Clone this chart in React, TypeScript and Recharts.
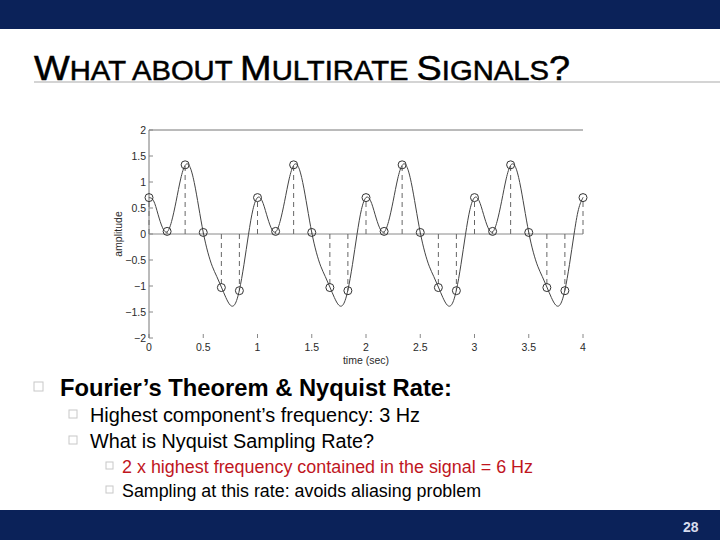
import React from 'react';
import {
  ComposedChart, Line, Scatter, XAxis, YAxis, ReferenceLine, Label,
} from 'recharts';

// ---- data ----
const curveTime = [
  0, 0.042, 0.083, 0.125, 0.167, 0.208, 0.25, 0.292, 0.333, 0.375, 0.417, 0.458,
  0.5, 0.542, 0.583, 0.625, 0.667, 0.708, 0.75, 0.792, 0.833, 0.875, 0.917, 0.958,
  1, 1.042, 1.083, 1.125, 1.167, 1.208, 1.25, 1.292, 1.333, 1.375, 1.417, 1.458,
  1.5, 1.542, 1.583, 1.625, 1.667, 1.708, 1.75, 1.792, 1.833, 1.875, 1.917, 1.958,
  2, 2.042, 2.083, 2.125, 2.167, 2.208, 2.25, 2.292, 2.333, 2.375, 2.417, 2.458,
  2.5, 2.542, 2.583, 2.625, 2.667, 2.708, 2.75, 2.792, 2.833, 2.875, 2.917, 2.958,
  3, 3.042, 3.083, 3.125, 3.167, 3.208, 3.25, 3.292, 3.333, 3.375, 3.417, 3.458,
  3.5, 3.542, 3.583, 3.625, 3.667, 3.708, 3.75, 3.792, 3.833, 3.875, 3.917, 3.958,
  4,
];
const curveAmp = [
  0.70, 0.64, 0.38, 0.12, 0.04, 0.24, 0.63, 1.06, 1.32, 1.30, 0.99, 0.52,
  0.03, -0.35, -0.62, -0.82, -1.02, -1.22, -1.37, -1.35, -1.08, -0.59, -0.01, 0.47,
  0.70, 0.64, 0.38, 0.12, 0.04, 0.24, 0.63, 1.06, 1.32, 1.30, 0.99, 0.52,
  0.03, -0.35, -0.62, -0.82, -1.02, -1.22, -1.37, -1.35, -1.08, -0.59, -0.01, 0.47,
  0.70, 0.64, 0.38, 0.12, 0.04, 0.24, 0.63, 1.06, 1.32, 1.30, 0.99, 0.52,
  0.03, -0.35, -0.62, -0.82, -1.02, -1.22, -1.37, -1.35, -1.08, -0.59, -0.01, 0.47,
  0.70, 0.64, 0.38, 0.12, 0.04, 0.24, 0.63, 1.06, 1.32, 1.30, 0.99, 0.52,
  0.03, -0.35, -0.62, -0.82, -1.02, -1.22, -1.37, -1.35, -1.08, -0.59, -0.01, 0.47,
  0.70,
];
const sampleTime = [
  0, 0.167, 0.333, 0.5, 0.667, 0.833, 1, 1.167, 1.333, 1.5, 1.667, 1.833,
  2, 2.167, 2.333, 2.5, 2.667, 2.833, 3, 3.167, 3.333, 3.5, 3.667, 3.833, 4,
];
const sampleAmp = [
  0.70, 0.05, 1.33, 0.03, -1.03, -1.09, 0.70, 0.05, 1.33, 0.03, -1.03, -1.09,
  0.70, 0.05, 1.33, 0.03, -1.03, -1.09, 0.70, 0.05, 1.33, 0.03, -1.03, -1.09,
  0.70,
];
const xTicks = [0, 0.5, 1, 1.5, 2, 2.5, 3, 3.5, 4];
const yTicks = [-2, -1.5, -1, -0.5, 0, 0.5, 1, 1.5, 2];

const curveData = curveTime.map((t, i) => ({ t, v: curveAmp[i] }));
const sampleData = sampleTime.map((t, i) => ({ t, v: sampleAmp[i] }));

const NAVY = '#0b2259';
const FONT = '"Liberation Sans", Arial, Helvetica, sans-serif';
const fmt = (v: number) => String(v).replace('-', '\u2212');

const Box = ({ x, y, s }: { x: number; y: number; s: number }) => (
  <rect x={x} y={y} width={s} height={s} fill="none" stroke="#c8c8c8" strokeWidth={1} />
);

export default function App() {
  const tickStyle = { fontSize: 10.5, fill: '#2a2a2a', fontFamily: FONT };
  return (
    <div style={{ position: 'absolute', left: 0, top: 0, width: 720, height: 540, background: '#fff', overflow: 'hidden' }}>
      <svg width={720} height={540} style={{ position: 'absolute', left: 0, top: 0 }}>
        <rect x={0} y={0} width={720} height={29} fill={NAVY} />
        <rect x={0} y={510} width={720} height={30} fill={NAVY} />
        <text x={34} y={80} fontFamily={FONT} fill="#000" stroke="#000" strokeWidth={0.5} textLength={536} lengthAdjust="spacingAndGlyphs">
          <tspan fontSize={35}>W</tspan>
          <tspan fontSize={27}>HAT ABOUT </tspan>
          <tspan fontSize={35}>M</tspan>
          <tspan fontSize={27}>ULTIRATE </tspan>
          <tspan fontSize={35}>S</tspan>
          <tspan fontSize={27}>IGNALS</tspan>
          <tspan fontSize={35}>?</tspan>
        </text>
        <line x1={34} y1={82} x2={720} y2={82} stroke="#d4d4d4" strokeWidth={2} />

        <Box x={34} y={382} s={9} />
        <text x={60} y={396} fontFamily={FONT} fontWeight="bold" fontSize={24} fill="#000" textLength={392} lengthAdjust="spacingAndGlyphs">Fourier’s Theorem &amp; Nyquist Rate:</text>

        <Box x={69} y={410} s={8} />
        <text x={90} y={422} fontFamily={FONT} fontSize={20} fill="#000" textLength={330} lengthAdjust="spacingAndGlyphs">Highest component’s frequency: 3 Hz</text>
        <Box x={69} y={436} s={8} />
        <text x={90} y={448} fontFamily={FONT} fontSize={20} fill="#000" textLength={284} lengthAdjust="spacingAndGlyphs">What is Nyquist Sampling Rate?</text>

        <Box x={106} y={462} s={7} />
        <text x={122} y={473} fontFamily={FONT} fontSize={17.5} fill="#c0161e" textLength={411} lengthAdjust="spacingAndGlyphs">2 x highest frequency contained in the signal = 6 Hz</text>
        <Box x={106} y={486} s={7} />
        <text x={122} y={497} fontFamily={FONT} fontSize={17.5} fill="#000" textLength={359} lengthAdjust="spacingAndGlyphs">Sampling at this rate: avoids aliasing problem</text>

        <text x={683} y={532} fontFamily={FONT} fontWeight="bold" fontSize={14} fill="#d6dcee">28</text>
      </svg>

      <div style={{ position: 'absolute', left: 100, top: 115 }}>
        <ComposedChart
          width={500}
          height={260}
          data={curveData}
          margin={{ top: 14, right: 16, bottom: 20, left: 0 }}
        >
          <XAxis
            dataKey="t"
            type="number"
            domain={[0, 4]}
            ticks={xTicks}
            axisLine={false}
            tickLine={{ stroke: '#888' }}
            tickSize={-4}
            tickMargin={10}
            height={17}
            tick={tickStyle}
            interval={0}
          >
            <Label value="time (sec)" position="bottom" offset={2} style={{ fontSize: 10.5, fill: '#2a2a2a', fontFamily: FONT }} />
          </XAxis>
          <XAxis
            xAxisId="top"
            orientation="top"
            type="number"
            domain={[0, 4]}
            ticks={xTicks}
            axisLine={{ stroke: '#777' }}
            tickLine={{ stroke: '#888' }}
            tickSize={-4}
            tick={false}
            height={1}
          />
          <YAxis
            type="number"
            domain={[-2, 2]}
            ticks={yTicks}
            axisLine={{ stroke: '#777' }}
            tickLine={{ stroke: '#888' }}
            tickSize={-4}
            tickMargin={7}
            width={49}
            tick={tickStyle}
            tickFormatter={fmt}
            interval={0}
          >
            <Label value="amplitude" angle={-90} position="insideLeft" offset={18} style={{ fontSize: 10.5, fill: '#2a2a2a', fontFamily: FONT, textAnchor: 'middle' }} />
          </YAxis>
          <YAxis
            yAxisId="right"
            orientation="right"
            type="number"
            domain={[-2, 2]}
            ticks={yTicks}
            axisLine={false}
            tickLine={{ stroke: '#888' }}
            tickSize={-4}
            tick={false}
            width={1}
          />
          <ReferenceLine y={0} stroke="#8a8a8a" strokeWidth={1} />
          {sampleData.map((d, i) => (
            <ReferenceLine
              key={i}
              segment={[{ x: d.t, y: 0 }, { x: d.t, y: d.v }]}
              stroke="#666"
              strokeWidth={1}
              strokeDasharray="5 4"
            />
          ))}
          <Line
            dataKey="v"
            type="natural"
            stroke="#444"
            strokeWidth={1}
            dot={false}
            isAnimationActive={false}
          />
          <Scatter
            data={sampleData}
            dataKey="v"
            isAnimationActive={false}
            shape={(p: any) => (
              <circle cx={p.cx} cy={p.cy} r={4} fill="none" stroke="#333" strokeWidth={1} />
            )}
          />
        </ComposedChart>
      </div>
    </div>
  );
}
